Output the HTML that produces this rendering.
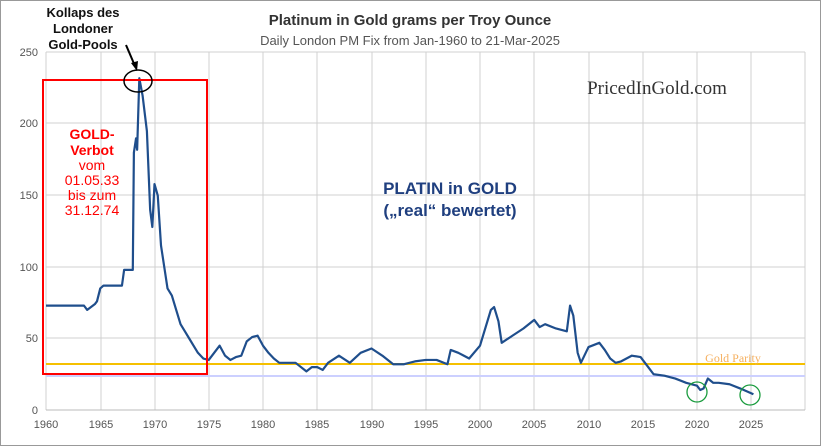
<!DOCTYPE html>
<html><head><style>body{margin:0;background:#fff}svg{display:block}</style></head><body>
<svg width="823" height="448" xmlns="http://www.w3.org/2000/svg" font-family="Liberation Sans, sans-serif">
<rect x="0.5" y="0.5" width="820" height="445" fill="#fff" stroke="#999"/>
<g stroke="#d0d0d0" stroke-width="1">
<line x1="46" y1="52" x2="805" y2="52"/><line x1="46" y1="123" x2="805" y2="123"/><line x1="46" y1="195" x2="805" y2="195"/><line x1="46" y1="267" x2="805" y2="267"/><line x1="46" y1="338" x2="805" y2="338"/>
<line x1="46" y1="52" x2="46" y2="410"/><line x1="101" y1="52" x2="101" y2="410"/><line x1="155" y1="52" x2="155" y2="410"/><line x1="209" y1="52" x2="209" y2="410"/><line x1="263" y1="52" x2="263" y2="410"/><line x1="317" y1="52" x2="317" y2="410"/><line x1="372" y1="52" x2="372" y2="410"/><line x1="426" y1="52" x2="426" y2="410"/><line x1="480" y1="52" x2="480" y2="410"/><line x1="534" y1="52" x2="534" y2="410"/><line x1="589" y1="52" x2="589" y2="410"/><line x1="643" y1="52" x2="643" y2="410"/><line x1="697" y1="52" x2="697" y2="410"/><line x1="751" y1="52" x2="751" y2="410"/><line x1="805" y1="52" x2="805" y2="410"/>
</g>
<line x1="46" y1="410" x2="805" y2="410" stroke="#bbb"/>
<line x1="46" y1="376" x2="805" y2="376" stroke="#ccd0ff" stroke-width="2"/>
<line x1="46" y1="364" x2="805" y2="364" stroke="#f5c000" stroke-width="2"/>
<g font-size="11" fill="#555" text-anchor="end">
<text x="38" y="56">250</text><text x="38" y="127">200</text><text x="38" y="199">150</text><text x="38" y="271">100</text><text x="38" y="342">50</text><text x="38" y="414">0</text></g>
<g font-size="11" fill="#555" text-anchor="middle">
<text x="46" y="428">1960</text><text x="101" y="428">1965</text><text x="155" y="428">1970</text><text x="209" y="428">1975</text><text x="263" y="428">1980</text><text x="317" y="428">1985</text><text x="372" y="428">1990</text><text x="426" y="428">1995</text><text x="480" y="428">2000</text><text x="534" y="428">2005</text><text x="589" y="428">2010</text><text x="643" y="428">2015</text><text x="697" y="428">2020</text><text x="751" y="428">2025</text></g>
<g transform="translate(46,410) scale(10.85,-1.43)">
<path fill="none" stroke="#1f4e8c" stroke-width="2.2" vector-effect="non-scaling-stroke" stroke-linejoin="round" d="M0,73 L3.5,73 L3.8,70 L4.5,74 L4.7,76 L5,85 L5.3,87 L7,87 L7.2,98 L8,98 L8.1,180 L8.3,190 L8.4,182 L8.6,232 L8.9,220 L9.3,195 L9.6,140 L9.8,128 L10,158 L10.3,150 L10.6,115 L10.9,100 L11.2,85 L11.6,80 L12,70 L12.4,60 L12.8,55 L13.2,50 L13.6,45 L14,40 L14.5,36 L15,35 L15.5,40 L16,45 L16.5,38 L17,35 L17.5,37 L18,38 L18.5,48 L19,51 L19.5,52 L20,45 L20.5,40 L21,36 L21.5,33 L22,33 L23,33 L24,27 L24.5,30 L25,30 L25.5,28 L26,33 L27,38 L28,33 L29,40 L30,43 L31,38 L32,32 L33,32 L34,34 L35,35 L36,35 L37,32 L37.3,42 L38,40 L38.5,38 L39,36 L40,45 L41,70 L41.3,72 L41.7,62 L42,47 L43,52 L44,57 L45,63 L45.5,58 L46,60 L47,57 L48,55 L48.3,73 L48.6,66 L49,40 L49.3,33 L50,44 L51,47 L51.5,42 L52,36 L52.5,33 L53,34 L54,38 L54.8,37 L55.5,30 L56,25 L57,24 L58,22 L59,19 L60,17 L60.3,14 L60.6,15 L61,22 L61.5,19 L62,19 L63,18 L64,15 L65.2,11"/>
</g>
<rect x="43" y="80" width="164" height="294" fill="none" stroke="#f00" stroke-width="2"/>
<ellipse cx="138" cy="81" rx="14" ry="11" fill="none" stroke="#000" stroke-width="1.5"/>
<line x1="126" y1="45" x2="135" y2="66" stroke="#000" stroke-width="2"/>
<polygon points="137,71 131,63 138,61" fill="#000"/>
<circle cx="697" cy="392" r="10" fill="none" stroke="#1a9c3e" stroke-width="1.3"/>
<circle cx="750" cy="395" r="10" fill="none" stroke="#1a9c3e" stroke-width="1.3"/>
<g font-size="13" font-weight="bold" text-anchor="middle" fill="#111">
<text x="83" y="17">Kollaps des</text><text x="83" y="33">Londoner</text><text x="83" y="49">Gold-Pools</text></g>
<text x="410" y="25" font-size="15" font-weight="bold" fill="#333" text-anchor="middle">Platinum in Gold grams per Troy Ounce</text>
<text x="410" y="45" font-size="13" fill="#555" text-anchor="middle">Daily London PM Fix from Jan-1960 to 21-Mar-2025</text>
<text x="657" y="94" font-size="19" fill="#333" text-anchor="middle" font-family="Liberation Serif, serif">PricedInGold.com</text>
<text x="450" y="194" font-size="17" font-weight="bold" fill="#1f3f7f" text-anchor="middle">PLATIN in GOLD</text>
<text x="450" y="216" font-size="17" font-weight="bold" fill="#1f3f7f" text-anchor="middle">(„real“ bewertet)</text>
<g fill="#f00" text-anchor="middle" font-size="14">
<text x="92" y="139" font-weight="bold">GOLD-</text><text x="92" y="155" font-weight="bold">Verbot</text><text x="92" y="170">vom</text><text x="92" y="185">01.05.33</text><text x="92" y="200">bis zum</text><text x="92" y="215">31.12.74</text></g>
<text x="733" y="362" font-size="12" fill="#f5b060" text-anchor="middle" font-family="Liberation Serif, serif">Gold Parity</text>
</svg>
</body></html>
